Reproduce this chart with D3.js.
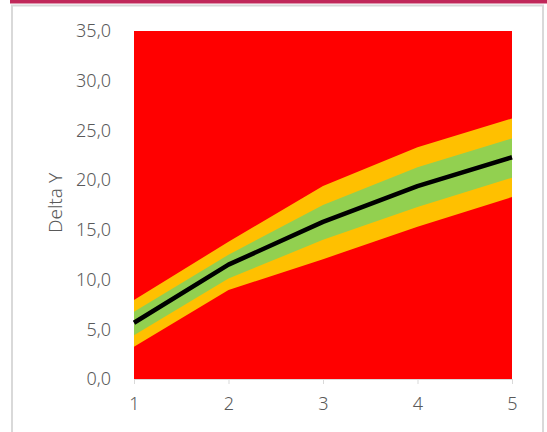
<!DOCTYPE html>
<html>
<head>
<meta charset="utf-8">
<script src="https://cdn.jsdelivr.net/npm/d3@7"></script>
<style>
  body { margin: 0; background: #fff; }
  svg { display: block; }
  svg text { font-family: 'Noto Sans', Lato, sans-serif; font-weight: 300; }
</style>
</head>
<body>
<div class="content"></div>
<script>
const w = 547;
const h = 432;

// data
const xValues = [1, 2, 3, 4, 5];
const lowerOrange = [3.25, 8.95, 12.05, 15.3, 18.3];
const lowerGreen = [4.4, 10.1, 14.0, 17.3, 20.25];
const meanLine = [5.66, 11.5, 15.8, 19.4, 22.3];
const upperGreen = [6.77, 12.5, 17.5, 21.3, 24.2];
const upperOrange = [7.95, 13.8, 19.4, 23.3, 26.2];
const yMax = 35;
const yTicks = [0, 5, 10, 15, 20, 25, 30, 35];

const redColor = '#ff0000';
const orangeColor = '#ffc000';
const greenColor = '#92d050';
const textColor = '#595959';

const svg = d3.select('.content').append('svg')
	.attr('width', w)
	.attr('height', h);

// frame
svg.append('rect')
	.attr('x', 10).attr('y', 0)
	.attr('width', w - 10).attr('height', 3.5)
	.attr('fill', '#c0285a');

svg.append('rect')
	.attr('x', 12).attr('y', 5.5)
	.attr('width', 531).attr('height', 440)
	.attr('fill', 'none')
	.attr('stroke', '#d9d9d9')
	.attr('stroke-width', 2);

const xScale = d3.scaleLinear()
	.domain([1, 5])
	.range([134, 512]);

const yScale = d3.scaleLinear()
	.domain([0, yMax])
	.range([379, 31]);

const pts = xValues.map((x, i) => ({
	x: x,
	lo: lowerOrange[i],
	lg: lowerGreen[i],
	m: meanLine[i],
	ug: upperGreen[i],
	uo: upperOrange[i]
}));

const band = (lo, hi) => d3.area()
	.x((d) => xScale(d.x))
	.y0(lo)
	.y1(hi);

// red background (0 to 35)
svg.append('path')
	.datum(pts)
	.attr('d', band(() => yScale(0), () => yScale(yMax)))
	.attr('fill', redColor);

svg.append('path')
	.datum(pts)
	.attr('d', band((d) => yScale(d.lo), (d) => yScale(d.uo)))
	.attr('fill', orangeColor);

svg.append('path')
	.datum(pts)
	.attr('d', band((d) => yScale(d.lg), (d) => yScale(d.ug)))
	.attr('fill', greenColor);

svg.append('path')
	.datum(pts)
	.attr('d', d3.line().x((d) => xScale(d.x)).y((d) => yScale(d.m)))
	.attr('fill', 'none')
	.attr('stroke', '#000')
	.attr('stroke-width', 4.5)
	.attr('stroke-linejoin', 'round');

// axes
const xAxis = d3.axisBottom(xScale)
	.tickValues(xValues)
	.tickFormat(d3.format('d'))
	.tickSize(5)
	.tickPadding(13);

const gx = svg.append('g')
	.attr('transform', 'translate(0,' + yScale(0) + ')')
	.call(xAxis);
gx.select('.domain').attr('stroke', '#d9d9d9');
gx.selectAll('.tick line').attr('stroke', '#d9d9d9');
gx.selectAll('.tick text')
	.attr('fill', textColor)
	.style('font-size', '18px');

const yAxis = d3.axisLeft(yScale)
	.tickValues(yTicks)
	.tickFormat((d) => d.toFixed(1).replace('.', ','))
	.tickSize(0)
	.tickPadding(23);

const gy = svg.append('g')
	.attr('transform', 'translate(' + xScale(1) + ',0)')
	.call(yAxis);
gy.select('.domain').remove();
gy.selectAll('.tick text')
	.attr('fill', textColor)
	.style('font-size', '18px');

svg.append('text')
	.attr('transform', 'translate(62,' + 203 + ') rotate(-90)')
	.attr('text-anchor', 'middle')
	.attr('fill', textColor)
	.style('font-size', '19px')
	.text('Delta Y');
</script>
</body>
</html>
